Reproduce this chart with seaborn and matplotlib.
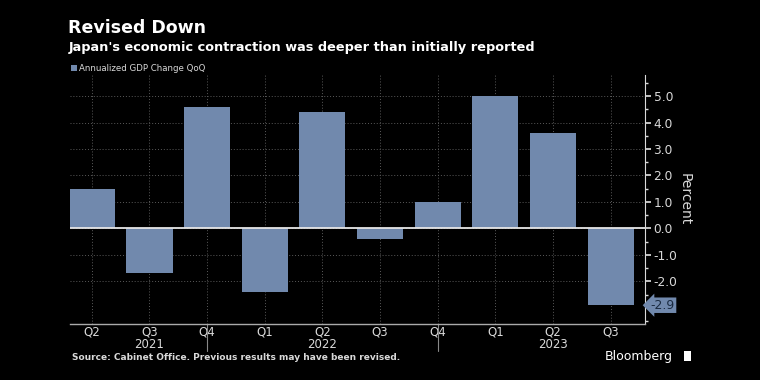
import matplotlib
matplotlib.use("Agg")
import matplotlib.pyplot as plt
import seaborn as sns
import pandas as pd

quarters = ["Q2", "Q3", "Q4", "Q1", "Q2", "Q3", "Q4", "Q1", "Q2", "Q3"]
periods = ["2021Q2", "2021Q3", "2021Q4", "2022Q1", "2022Q2", "2022Q3", "2022Q4", "2023Q1", "2023Q2", "2023Q3"]
gdp_change = [1.5, -1.7, 4.6, -2.4, 4.4, -0.4, 1.0, 5.0, 3.6, -2.9]
years = ["2021", "2022", "2023"]
year_label_pos = [1, 4, 8]
year_sep_pos = [2, 6]
yticks = [-2.0, -1.0, 0.0, 1.0, 2.0, 3.0, 4.0, 5.0]

df = pd.DataFrame({"period": periods, "value": gdp_change})

sns.set_theme(style="dark")
plt.rcParams["font.family"] = ["DejaVu Sans"]

bg = "black"
bar_color = "#7189ad"
text_color = "#d9d9d9"
grid_color = "#5a5a5a"

fig = plt.figure(figsize=(7.6, 3.8), dpi=100, facecolor=bg)
ax = fig.add_axes([0.092, 0.148, 0.757, 0.655], facecolor=bg)

sns.barplot(data=df, x="period", y="value", color=bar_color, width=0.8,
            saturation=1, ax=ax, zorder=3, linewidth=0, edgecolor="none")

ax.set_xlim(-0.38, 9.6)
ax.set_ylim(-3.6, 5.8)

ax.set_yticks(yticks)
ax.set_yticks([v + 0.5 for v in range(-4, 6)], minor=True)
ax.set_yticklabels([f"{v:.1f}" for v in yticks], color=text_color, fontsize=8.8)
ax.yaxis.tick_right()
ax.tick_params(axis="y", which="major", length=4, color=text_color, pad=2, right=True, left=False)
ax.tick_params(axis="y", which="minor", length=2, color=text_color, right=True, left=False)
ax.set_xticks(range(len(quarters)))
ax.set_xticklabels(quarters, color=text_color, fontsize=8.5)
ax.tick_params(axis="x", length=0, pad=1.5)
ax.grid(True, axis="both", which="major", color=grid_color, linestyle=(0, (1, 2)),
        linewidth=0.7, zorder=0)
ax.set_xlabel("")
ax.set_ylabel("Percent", color=text_color, fontsize=10, rotation=270, labelpad=10)
ax.yaxis.set_label_position("right")

for s in ["top", "left"]:
    ax.spines[s].set_visible(False)
ax.spines["right"].set_color(text_color)
ax.spines["bottom"].set_color("#aaaaaa")
ax.spines["right"].set_linewidth(0.8)
ax.spines["bottom"].set_linewidth(1.0)

ax.axhline(0, color="#e6e6e6", linewidth=1.3, zorder=4)

for yl, xp in zip(years, year_label_pos):
    ax.text(xp, -0.084, yl, transform=ax.get_xaxis_transform(), ha="center", va="center",
            color=text_color, fontsize=8.5)
for xp in year_sep_pos:
    ax.plot([xp, xp], [0, -0.11], transform=ax.get_xaxis_transform(), color="#888888",
            linewidth=0.8, clip_on=False)

last = gdp_change[-1]
ax.annotate(f"{last:.1f}", xy=(1.0, last), xycoords=ax.get_yaxis_transform(),
            xytext=(4, 0), textcoords="offset points", ha="left", va="center",
            fontsize=9, color="#1a2a40",
            bbox=dict(boxstyle="larrow,pad=0.1", fc=bar_color, ec="none"), zorder=6)

fig.text(0.089, 0.926, "Revised Down", color="white", fontsize=12.5, fontweight="bold",
         ha="left", va="center")
fig.text(0.09, 0.876, "Japan's economic contraction was deeper than initially reported",
         color="white", fontsize=9.3, fontweight="bold", ha="left", va="center")
fig.patches.append(plt.Rectangle((0.093, 0.812), 0.0085, 0.018, transform=fig.transFigure,
                                 facecolor=bar_color, edgecolor="none"))
fig.text(0.104, 0.821, "Annualized GDP Change QoQ", color=text_color, fontsize=6.2,
         ha="left", va="center")

fig.text(0.095, 0.058, "Source: Cabinet Office. Previous results may have been revised.",
         color=text_color, fontsize=6.5, fontweight="bold", ha="left", va="center")
fig.text(0.885, 0.062, "Bloomberg", color="white", fontsize=9, ha="right", va="center")
fig.patches.append(plt.Rectangle((0.8995, 0.05), 0.0095, 0.026, transform=fig.transFigure,
                                 facecolor="white", edgecolor="none"))

fig.savefig("out.png", dpi=100, facecolor=bg)
